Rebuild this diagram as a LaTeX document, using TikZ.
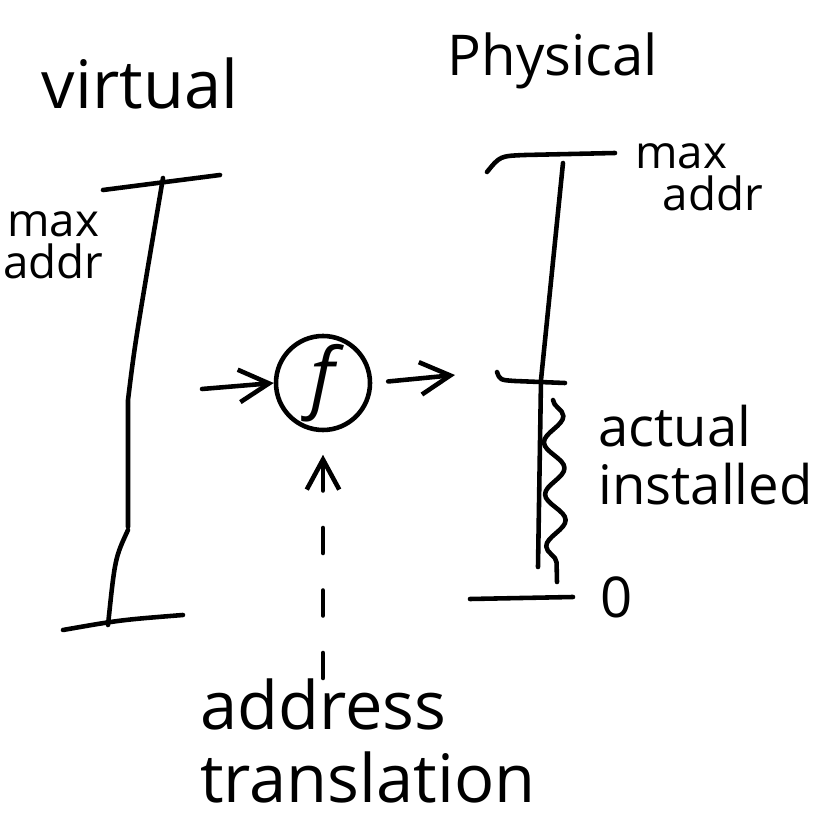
\documentclass[tikz,border=0pt]{standalone}
\usepackage{fontspec}
\setmainfont{Open Sans}
\usetikzlibrary{arrows.meta, calc, positioning, decorations.pathmorphing}
\newcommand{\bigtext}{\fontsize{36}{42}\selectfont}
\newcommand{\midtext}{\fontsize{32}{34}\selectfont}
\newcommand{\smalltext}{\fontsize{26}{24}\selectfont}

\begin{document}
\begin{tikzpicture}[
    >={Straight Barb[length=6mm,width=6.5mm]},
    every node/.style={font=\bigtext, inner sep=0pt},
    pen/.style={line width=2.6pt, line cap=round, line join=round},
    dashpen/.style={pen, dash pattern=on 0.5cm off 0.75cm},
    wave/.style={pen, decorate, decoration={snake, segment length=1.04cm, amplitude=0.2cm}},
]
\useasboundingbox (0,0) rectangle (16.48,16.76);

% headings
\node[font=\fontsize{38}{40}\selectfont] (virt) at (2.8,15.1) {virtual};
\node[font=\midtext] (phys) at (11.06,15.55) {Physical};

% virtual address range
\draw[pen] (2.06,12.96) -- (4.40,13.26);
\draw[pen] (3.26,13.20) .. controls (2.7,9.9) .. (2.56,8.76) -- (2.56,6.22);
\draw[pen] (2.56,6.16) .. controls (2.3,5.6) .. (2.16,4.26);
\draw[pen] (1.26,4.16) .. controls (2.4,4.36) .. (3.66,4.46);
\node[font=\smalltext, align=center, anchor=west] (vmax) at (0.06,11.86) {max\\addr};

% physical address range
\draw[pen] (9.74,13.32) .. controls (10.0,13.64) .. (10.5,13.66) -- (12.3,13.7);
\draw[pen] (11.26,13.50) -- (10.82,9.16) -- (10.76,5.42);
\draw[pen] (9.94,9.32) .. controls (10.0,9.16) .. (10.3,9.14) -- (11.3,9.1);
\draw[wave] (11.06,8.76) -- (11.14,5.12);
\coordinate (pbot) at (11.46,4.82);
\draw[pen] (9.4,4.78) -- (pbot);
\node[font=\midtext, right=0.55cm of pbot] (zero) {0};
\node[font=\smalltext, align=left, anchor=west] (pmax) at (12.7,13.22) {max\\\hspace*{0.6em}addr};
\node[font=\fontsize{31}{33}\selectfont, align=left, anchor=west] (inst) at (11.96,7.66) {actual\\installed};

% translation function
\node[circle, draw, pen, minimum size=1.88cm, font=\fontsize{44}{44}\selectfont\itshape] (f) at (6.46,9.1) {f};
\coordinate (vin) at (4.04,8.98);
\coordinate (pin) at (9.1,9.26);
\draw[pen, ->] (vin) -- (f.west);
\draw[pen, ->, shorten <=0.32cm] (f.east) -- (pin);

\node[align=left, anchor=north west, font=\fontsize{38}{42}\selectfont] (tr) at (4.0,3.2) {address\\translation};
\draw[dashpen, ->, shorten >=0.45cm] (f |- tr.north) -- (f.south);
\end{tikzpicture}
\end{document}
